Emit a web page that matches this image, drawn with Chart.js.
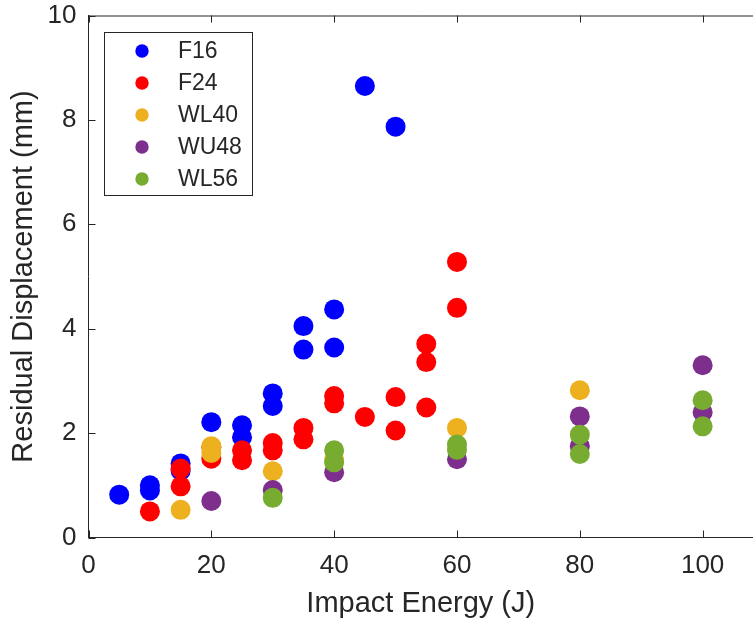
<!DOCTYPE html>
<html>
<head>
<meta charset="utf-8">
<script src="https://cdn.jsdelivr.net/npm/chart.js@4/dist/chart.umd.min.js"></script>
<style>
html, body { margin: 0; padding: 0; background: #fff; }
#wrap { width: 753px; height: 622px; }
</style>
</head>
<body>
<div id="wrap"><canvas id="myChart"></canvas></div>
<script>
const seriesNames = ['F16', 'F24', 'WL40', 'WU48', 'WL56'];
const seriesColors = ['#0000FF', '#FF0000', '#EDB120', '#7E2F8E', '#77AC30'];

const f16Energy = [5, 10, 10, 15, 15, 20, 25, 25, 30, 30, 35, 35, 40, 40, 45, 50];
const f16Disp = [0.82, 0.90, 1.00, 1.42, 1.28, 2.21, 2.15, 1.92, 2.76, 2.52, 4.05, 3.60, 4.37, 3.64, 8.65, 7.87];

const f24Energy = [10, 15, 15, 20, 20, 25, 25, 30, 30, 35, 35, 40, 40, 45, 50, 50, 55, 55, 55, 60, 60];
const f24Disp = [0.50, 1.32, 0.98, 1.73, 1.51, 1.67, 1.48, 1.81, 1.67, 2.10, 1.88, 2.71, 2.57, 2.31, 2.69, 2.05, 3.71, 3.36, 2.49, 5.28, 4.40];

const wl40Energy = [15, 20, 20, 30, 40, 60, 80];
const wl40Disp = [0.53, 1.75, 1.62, 1.27, 1.50, 2.10, 2.82];

const wu48Energy = [20, 30, 40, 60, 80, 80, 100, 100];
const wu48Disp = [0.70, 0.91, 1.25, 1.50, 2.32, 1.75, 3.30, 2.40];

const wl56Energy = [30, 40, 40, 60, 60, 80, 80, 100, 100];
const wl56Disp = [0.76, 1.67, 1.44, 1.78, 1.68, 1.97, 1.60, 2.63, 2.13];

const xTicks = [0, 20, 40, 60, 80, 100];
const yTicks = [0, 2, 4, 6, 8, 10];

const energies = [f16Energy, f24Energy, wl40Energy, wu48Energy, wl56Energy];
const disps = [f16Disp, f24Disp, wl40Disp, wu48Disp, wl56Disp];

const axisColor = '#262626';
const fontName = '"Liberation Sans", Arial, sans-serif';

// later series sit on top, like the original plot
const datasets = seriesNames.map((name, i) => ({
    label: name,
    data: energies[i].map((e, j) => ({ x: e, y: disps[i][j] })),
    backgroundColor: seriesColors[i],
    borderWidth: 0,
    pointRadius: 10,
    pointHoverRadius: 10,
    order: seriesNames.length - i
}));

// inward ticks, top box line and a boxed legend
const matlabFrame = {
    id: 'matlabFrame',
    afterDraw(chart) {
        const ctx = chart.ctx;
        const area = chart.chartArea;
        const xs = chart.scales.x;
        const ys = chart.scales.y;
        ctx.save();
        ctx.strokeStyle = axisColor;
        ctx.lineWidth = 1;
        ctx.beginPath();
        ctx.moveTo(area.left, area.top + 0.5);
        ctx.lineTo(area.right, area.top + 0.5);
        xTicks.forEach(v => {
            const px = Math.round(xs.getPixelForValue(v)) + 0.5;
            ctx.moveTo(px, area.bottom);
            ctx.lineTo(px, area.bottom - 7);
            ctx.moveTo(px, area.top);
            ctx.lineTo(px, area.top + 7);
        });
        yTicks.forEach(v => {
            const py = Math.round(ys.getPixelForValue(v)) + 0.5;
            ctx.moveTo(area.left, py);
            ctx.lineTo(area.left + 7, py);
        });
        ctx.stroke();

        // legend
        const lx = 104, ly = 32, lw = 148, lh = 163;
        ctx.fillStyle = '#fff';
        ctx.fillRect(lx, ly, lw, lh);
        ctx.strokeRect(lx + 0.5, ly + 0.5, lw, lh);
        ctx.font = '23px ' + fontName;
        ctx.textBaseline = 'middle';
        chart.data.datasets.forEach((ds, i) => {
            const cy = 51 + i * 32;
            ctx.fillStyle = ds.backgroundColor;
            ctx.beginPath();
            ctx.arc(142, cy, 6.7, 0, Math.PI * 2);
            ctx.fill();
            ctx.fillStyle = axisColor;
            ctx.fillText(ds.label, 178, cy + 1);
        });
        ctx.restore();
    }
};

const ctx = document.getElementById('myChart').getContext('2d');
const myChart = new Chart(ctx, {
    type: 'scatter',
    data: { datasets: datasets },
    plugins: [matlabFrame],
    options: {
        responsive: true,
        maintainAspectRatio: false,
        animation: false,
        layout: { autoPadding: false, padding: { top: 15.5, right: 0, left: 0, bottom: 0 } },
        plugins: {
            legend: { display: false },
            tooltip: { enabled: false }
        },
        scales: {
            x: {
                type: 'linear',
                min: 0,
                max: 108.2,
                afterBuildTicks: s => { s.ticks = xTicks.map(v => ({ value: v })); },
                afterFit: s => { s.height = 84.5; s.paddingRight = 0; s.paddingLeft = 0; },
                grid: { display: false, drawTicks: false },
                border: { display: true, color: axisColor, width: 1 },
                ticks: { color: axisColor, font: { family: fontName, size: 26 }, padding: 13, maxRotation: 0 },
                title: { display: true, text: 'Impact Energy (J)', color: axisColor, font: { family: fontName, size: 29 }, padding: { top: 0, bottom: 1 } }
            },
            y: {
                min: 0,
                max: 10,
                afterBuildTicks: s => { s.ticks = yTicks.map(v => ({ value: v })); },
                afterFit: s => { s.width = 88.5; s.paddingTop = 0; s.paddingBottom = 0; },
                grid: { display: false, drawTicks: false },
                border: { display: true, color: axisColor, width: 1 },
                ticks: { color: axisColor, font: { family: fontName, size: 26 }, padding: 12 },
                title: { display: true, text: 'Residual Displacement (mm)', color: axisColor, font: { family: fontName, size: 29 }, padding: { top: 7, bottom: 0 } }
            }
        }
    }
});
</script>
</body>
</html>
